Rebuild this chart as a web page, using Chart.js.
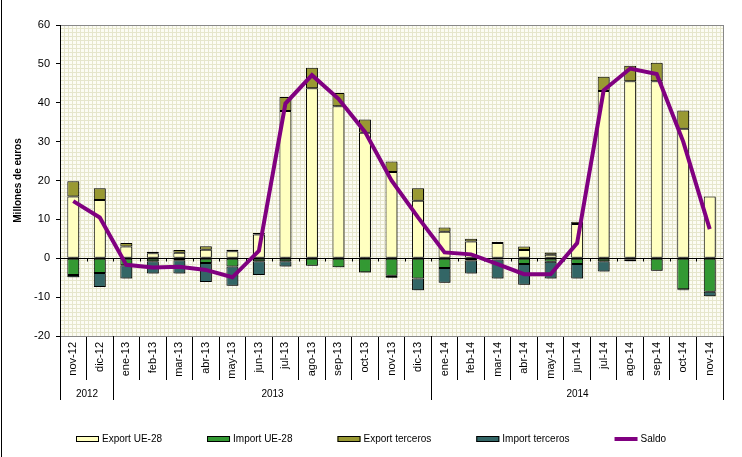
<!DOCTYPE html>
<html>
<head>
<meta charset="utf-8">
<script src="https://cdn.jsdelivr.net/npm/chart.js@4.4.1/dist/chart.umd.min.js"></script>
<style>
html, body { margin: 0; padding: 0; background: #fff; }
#wrap { width: 742px; height: 457px; position: relative; }
</style>
</head>
<body>
<div id="wrap"><canvas id="chart1"></canvas></div>
<script>
'use strict';
var months = ['nov-12', 'dic-12', 'ene-13', 'feb-13', 'mar-13', 'abr-13', 'may-13', 'jun-13', 'jul-13', 'ago-13', 'sep-13', 'oct-13', 'nov-13', 'dic-13',
	'ene-14', 'feb-14', 'mar-14', 'abr-14', 'may-14', 'jun-14', 'jul-14', 'ago-14', 'sep-14', 'oct-14', 'nov-14'];
var years = ['2012', '2013', '2014'];
var yearSpans = [2, 12, 11];

var exportUE = [15.9, 15.0, 3.0, 1.3, 1.4, 2.2, 1.8, 6.1, 37.9, 43.7, 39.1, 32.3, 22.2, 14.8, 6.8, 4.3, 3.9, 2.1, 0.9, 8.8, 43.0, 45.5, 45.5, 33.3, 15.9];
var importUE = [-4.3, -3.8, -1.8, -0.8, -0.5, -1.2, -2.1, -0.8, -0.8, -1.9, -2.3, -3.6, -4.5, -5.2, -2.5, -0.6, -0.3, -1.5, -0.9, -1.5, -0.8, -0.4, -3.2, -8.0, -8.6];
var exportTerceros = [3.9, 3.0, 0.9, 0.4, 0.7, 0.9, 0.4, 0.4, 3.6, 5.3, 3.4, 3.4, 2.7, 3.2, 1.1, 0.7, 0.3, 0.9, 0.6, 0.6, 3.7, 4.0, 4.8, 4.7, 0.0];
var importTerceros = [-0.6, -3.6, -3.4, -3.1, -3.4, -4.9, -5.0, -3.5, -1.3, -0.1, 0.0, -0.1, -0.5, -3.0, -3.8, -3.3, -4.9, -5.3, -4.3, -3.7, -2.6, -0.4, -0.1, -0.2, -1.2];
var saldo = [14.7, 10.5, -1.7, -2.4, -2.2, -3.0, -4.9, 1.9, 39.8, 47.1, 41.0, 32.5, 20.0, 10.5, 1.5, 1.0, -1.5, -4.1, -4.1, 3.9, 43.2, 48.8, 47.4, 30.0, 7.5];

var FONT = '"Liberation Sans", Arial, sans-serif';

// excel style fine grid fill for the plot area
var makePattern = function (ctx) {
	var c = document.createElement('canvas');
	c.width = 4;
	c.height = 4;
	var p = c.getContext('2d');
	p.fillStyle = '#fcfcf4';
	p.fillRect(0, 0, 4, 4);
	p.fillStyle = '#e6e6cc';
	p.fillRect(0, 0, 4, 1);
	p.fillRect(0, 0, 1, 4);
	return ctx.createPattern(c, 'repeat');
};

var plotBg = {
	id: 'plotBg',
	beforeDraw: function (chart) {
		var ctx = chart.ctx;
		var a = chart.chartArea;
		ctx.save();
		ctx.fillStyle = makePattern(ctx);
		ctx.fillRect(a.left, a.top, a.right - a.left, a.bottom - a.top);
		ctx.strokeStyle = '#888';
		ctx.lineWidth = 1;
		ctx.strokeRect(a.left + 0.5, a.top + 0.5, a.right - a.left, a.bottom - a.top);
		// outer frame, left side
		ctx.strokeStyle = '#000';
		ctx.beginPath();
		ctx.moveTo(1.5, 0);
		ctx.lineTo(1.5, chart.height);
		ctx.stroke();
		ctx.restore();
	},
	beforeDatasetsDraw: function (chart) {
		// small ticks on the zero line
		var ctx = chart.ctx;
		var xs = chart.scales.x;
		var y0 = Math.round(chart.scales.y.getPixelForValue(0)) + 0.5;
		var half = (xs.getPixelForValue(1) - xs.getPixelForValue(0)) / 2;
		ctx.save();
		ctx.strokeStyle = '#000';
		ctx.lineWidth = 1;
		ctx.beginPath();
		for (var i = 1; i < months.length; i++) {
			var x = Math.round(xs.getPixelForValue(i) - half) + 0.5;
			ctx.moveTo(x, y0);
			ctx.lineTo(x, y0 + 3);
		}
		ctx.stroke();
		ctx.restore();
	},
	beforeDatasetDraw: function (chart, args) {
		if (chart.data.datasets[args.index].type !== 'line') {
			var ctx = chart.ctx;
			ctx.save();
			ctx.shadowColor = 'rgba(0,0,0,0.4)';
			ctx.shadowOffsetX = 2;
			ctx.shadowOffsetY = 1;
			ctx.shadowBlur = 0;
		}
	},
	afterDatasetDraw: function (chart, args) {
		if (chart.data.datasets[args.index].type !== 'line') {
			chart.ctx.restore();
		}
	}
};

var yearRow = {
	id: 'yearRow',
	afterDraw: function (chart) {
		var ctx = chart.ctx;
		var xs = chart.scales.x;
		var a = chart.chartArea;
		var half = (xs.getPixelForValue(1) - xs.getPixelForValue(0)) / 2;
		var edge = function (i) {
			return Math.round(xs.getPixelForValue(i) - half) + 0.5;
		};
		ctx.save();
		ctx.strokeStyle = '#000';
		ctx.lineWidth = 1;
		ctx.fillStyle = '#000';
		ctx.font = '10px ' + FONT;
		ctx.textAlign = 'center';
		ctx.textBaseline = 'middle';
		var start = 0;
		ctx.beginPath();
		ctx.moveTo(edge(0), a.bottom);
		ctx.lineTo(edge(0), 400);
		for (var i = 0; i < years.length; i++) {
			var end = start + yearSpans[i];
			ctx.moveTo(edge(end), a.bottom);
			ctx.lineTo(edge(end), 400);
			ctx.fillText(years[i], (edge(start) + edge(end)) / 2, 394);
			start = end;
		}
		ctx.stroke();
		ctx.restore();
	}
};

var boxLegend = {
	id: 'boxLegend',
	afterDraw: function (chart) {
		var ctx = chart.ctx;
		var items = chart.data.datasets;
		var boxW = 23, gap = 3, space = 45, y = 439;
		ctx.save();
		ctx.font = '10px ' + FONT;
		ctx.textBaseline = 'middle';
		ctx.textAlign = 'left';
		var widths = [];
		var total = space * (items.length - 1);
		for (var i = 0; i < items.length; i++) {
			widths.push(boxW + gap + ctx.measureText(items[i].label).width);
			total += widths[i];
		}
		var x = Math.round((chart.width - total) / 2);
		for (var j = 0; j < items.length; j++) {
			var d = items[j];
			if (d.type === 'line') {
				ctx.strokeStyle = d.borderColor;
				ctx.lineWidth = 4;
				ctx.beginPath();
				ctx.moveTo(x, y);
				ctx.lineTo(x + boxW, y);
				ctx.stroke();
			} else {
				ctx.fillStyle = d.backgroundColor;
				ctx.fillRect(x, y - 3, boxW, 6);
				ctx.strokeStyle = '#000';
				ctx.lineWidth = 1;
				ctx.strokeRect(x + 0.5, y - 2.5, boxW - 1, 5);
			}
			ctx.fillStyle = '#000';
			ctx.fillText(d.label, x + boxW + gap, y);
			x += widths[j] + space;
		}
		ctx.restore();
	}
};

var barSet = function (label, values, color) {
	return {
		type: 'bar',
		label: label,
		data: values,
		backgroundColor: color,
		borderColor: '#000',
		borderWidth: 1,
		borderSkipped: false,
		stack: 'flujos',
		order: 1,
		categoryPercentage: 1,
		barPercentage: 0.45
	};
};

var ctx = document.getElementById('chart1');
var myChart = new Chart(ctx, {
	data: {
		labels: months,
		datasets: [
			barSet('Export UE-28', exportUE, '#ffffc0'),
			barSet('Import UE-28', importUE, '#339933'),
			barSet('Export terceros', exportTerceros, '#999933'),
			barSet('Import terceros', importTerceros, '#336666'),
			{
				type: 'line',
				label: 'Saldo',
				data: saldo,
				borderColor: '#800080',
				backgroundColor: '#800080',
				borderWidth: 4,
				pointRadius: 0,
				tension: 0,
				stack: 'saldo',
				order: 0
			}
		]
	},
	options: {
		responsive: true,
		maintainAspectRatio: false,
		animation: false,
		layout: {
			padding: { left: 0, top: 25, right: 19, bottom: 0 }
		},
		plugins: {
			legend: { display: false },
			tooltip: { enabled: false }
		},
		scales: {
			x: {
				stacked: true,
				grid: {
					drawOnChartArea: false,
					color: '#000',
					tickLength: 44,
					offset: true
				},
				border: { color: '#888' },
				ticks: {
					autoSkip: false,
					minRotation: 90,
					maxRotation: 90,
					padding: -38,
					color: '#000',
					font: { family: FONT, size: 11 }
				},
				afterFit: function (scale) {
					scale.height = 121;
				}
			},
			y: {
				stacked: true,
				min: -20,
				max: 60,
				ticks: {
					stepSize: 10,
					padding: 6,
					color: '#000',
					font: { family: FONT, size: 11 }
				},
				grid: {
					color: function (c) {
						return c.tick && c.tick.value === 0 ? '#000' : 'rgba(0,0,0,0)';
					},
					tickColor: '#000',
					tickLength: 4
				},
				border: { color: '#000' },
				title: {
					display: true,
					text: 'Millones de euros',
					color: '#000',
					font: { family: FONT, size: 10, weight: 'bold' },
					padding: { top: 12, bottom: 0 }
				},
				afterFit: function (scale) {
					scale.width = 60;
				}
			}
		}
	},
	plugins: [plotBg, yearRow, boxLegend]
});
</script>
</body>
</html>
